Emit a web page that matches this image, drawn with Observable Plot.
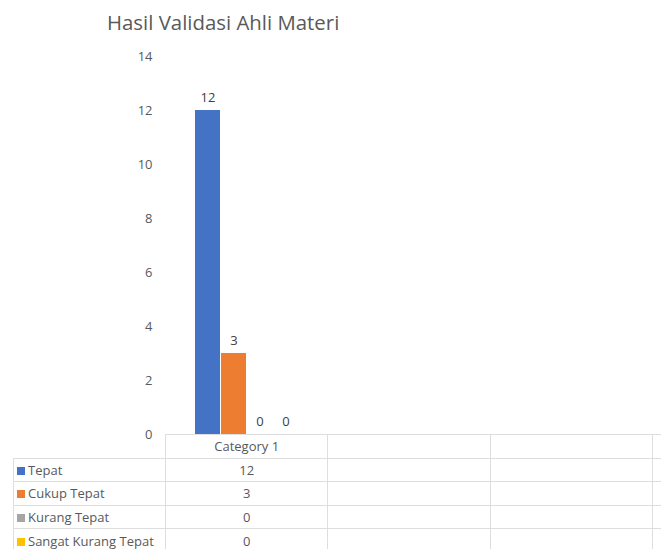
<!DOCTYPE html>
<html>
<head>
<meta charset="utf-8">
<script src="https://cdn.jsdelivr.net/npm/d3@7"></script>
<script src="https://cdn.jsdelivr.net/npm/@observablehq/plot@0.6"></script>
<style>
  html, body { margin: 0; padding: 0; background: #fff; }
  #wrap { width: 661px; height: 549px; overflow: hidden; position: relative; font-family: "Open Sans", sans-serif; color: #595959; }
  #title { height: 44px; box-sizing: border-box; padding: 9px 0 0 107px; font-size: 20.4px; line-height: 26px; color: #595959; white-space: nowrap; }
  #chart { margin: 0; width: 900px; }
  #chart svg { overflow: visible; display: block; max-width: none !important; }
  #tbl { border-collapse: collapse; table-layout: fixed; margin-left: 13px; margin-top: -10px; font-size: 13px; color: #595959; }
  #tbl td { border: 1px solid #dedede; height: 22.6px; padding: 0; white-space: nowrap; overflow: hidden; }
  #tbl td.num { text-align: center; }
  #tbl td.lab { padding-left: 3px; }
  #tbl tr.head td.corner { border-top: none; border-left: none; border-bottom: 1px solid #dedede; }
  .sw { display: inline-block; width: 8px; height: 8px; margin-right: 3px; vertical-align: 0px; }
</style>
</head>
<body>
<div id="wrap">
  <div id="title"></div>
  <div id="chart"></div>
  <table id="tbl"></table>
</div>
<script>
const chartTitle = "Hasil Validasi Ahli Materi";
const categories = ["Category 1"];
const blankColumns = 3;
const series = ["Tepat", "Cukup Tepat", "Kurang Tepat", "Sangat Kurang Tepat"];
const values = [12, 3, 0, 0];
const colors = ["#4472C4", "#ED7D31", "#A5A5A5", "#FFC000"];
const yTicks = [0, 2, 4, 6, 8, 10, 12, 14];

const data = series.map((s, i) => ({category: categories[0], series: s, value: values[i]}));
const facetDomain = categories.concat(d3.range(blankColumns).map(i => "blank" + i));

document.getElementById("title").textContent = chartTitle;

const colW = 162.4;
const marginLeft = 165;
const plot = Plot.plot({
  width: marginLeft + colW * facetDomain.length,
  height: 400,
  marginLeft: marginLeft,
  marginRight: 0,
  marginTop: 12,
  marginBottom: 10,
  style: {fontFamily: "Open Sans, sans-serif", fontSize: "13px", color: "#595959", background: "transparent", maxWidth: "none"},
  fx: {domain: facetDomain, padding: 0, axis: null},
  x: {domain: series, paddingInner: 0.03, paddingOuter: 1.1, axis: null},
  y: {domain: [0, 14], ticks: yTicks, tickSize: 0, tickPadding: 14, label: null},
  color: {domain: series, range: colors},
  marks: [
    Plot.barY(data, {fx: "category", x: "series", y: "value", fill: "series"}),
    Plot.text(data, {fx: "category", x: "series", y: "value", text: d => String(d.value), lineAnchor: "bottom", dy: -8, fill: "#404040", fontSize: 13})
  ]
});
document.getElementById("chart").appendChild(plot);

// data table below the chart
const tbl = document.getElementById("tbl");
const colgroup = document.createElement("colgroup");
const c0 = document.createElement("col"); c0.style.width = "152px"; colgroup.appendChild(c0);
for (let i = 0; i < facetDomain.length; i++) {
  const c = document.createElement("col"); c.style.width = colW + "px"; colgroup.appendChild(c);
}
tbl.appendChild(colgroup);
tbl.style.width = (152 + colW * facetDomain.length) + "px";

const head = document.createElement("tr");
head.className = "head";
const corner = document.createElement("td"); corner.className = "corner"; head.appendChild(corner);
facetDomain.forEach((k, i) => {
  const td = document.createElement("td"); td.className = "num";
  td.textContent = i < categories.length ? categories[i] : "";
  head.appendChild(td);
});
tbl.appendChild(head);

series.forEach((s, i) => {
  const tr = document.createElement("tr");
  const lab = document.createElement("td"); lab.className = "lab";
  const sw = document.createElement("span"); sw.className = "sw"; sw.style.background = colors[i];
  lab.appendChild(sw);
  lab.appendChild(document.createTextNode(s));
  tr.appendChild(lab);
  facetDomain.forEach((k, j) => {
    const td = document.createElement("td"); td.className = "num";
    td.textContent = j < categories.length ? String(values[i]) : "";
    tr.appendChild(td);
  });
  tbl.appendChild(tr);
});
</script>
</body>
</html>
